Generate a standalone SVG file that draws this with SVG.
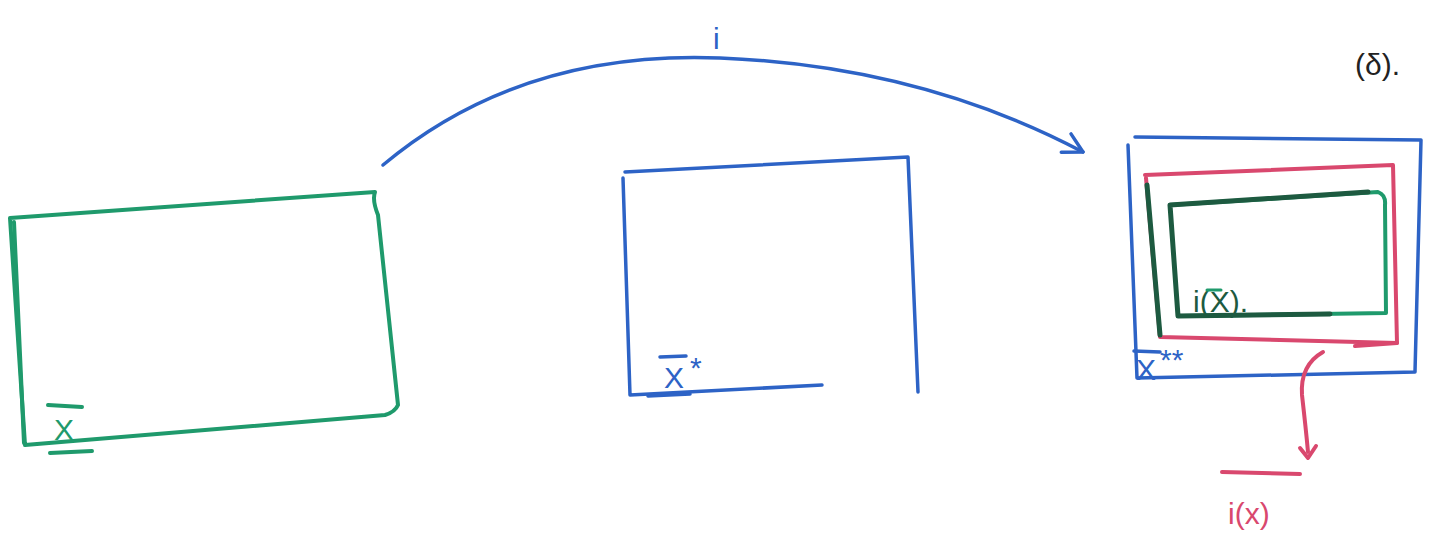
<svg xmlns="http://www.w3.org/2000/svg" width="1437" height="548" viewBox="0 0 1437 548">
<style>
.g{fill:none;stroke:#1f9a6c;stroke-width:4;stroke-linecap:round;stroke-linejoin:round}
.b{fill:none;stroke:#2d63c6;stroke-width:3.5;stroke-linecap:round;stroke-linejoin:round}
.p{fill:none;stroke:#d9486e;stroke-width:4;stroke-linecap:round;stroke-linejoin:round}
.dg{fill:none;stroke:#1d5a40;stroke-width:5;stroke-linecap:round;stroke-linejoin:round}
.t{font-family:"Liberation Sans",Arial,sans-serif;font-size:30px}
</style>
<defs>
<marker id="ab" viewBox="0 0 30 30" refX="26" refY="15" markerWidth="26" markerHeight="26" orient="auto" markerUnits="userSpaceOnUse">
<path d="M4,3 L26,15 L4,27" fill="none" stroke="#2d63c6" stroke-width="4" stroke-linecap="round" stroke-linejoin="round"/>
</marker>
</defs>
<rect width="1437" height="548" fill="#fff"/>
<g id="X">
<path class="g" d="M10,218 L375,192 Q372,200 378,215 L398,405 Q395,412 385,415 L25,445 Z"/>
<path class="g" d="M14,222 L24,443"/>
<text class="t" x="54" y="440" fill="#1f9a6c">X</text>
<line class="g" x1="48" y1="405" x2="82" y2="407"/>
<line class="g" x1="50" y1="453" x2="92" y2="451"/>
</g>
<g id="Xstar">
<path class="b" d="M625,172 L908,157 L918,392"/>
<path class="b" d="M623,178 L630,395 L822,385"/>
<path class="b" d="M648,396 L690,394"/>
<text class="t" x="664" y="388" fill="#2d63c6">X</text>
<line class="b" x1="660" y1="357" x2="686" y2="356"/>
<text class="t" x="690" y="378" fill="#2d63c6" font-size="26">*</text>
</g>
<g id="Xstarstar">
<path class="b" d="M1128,145 L1137,378 L1415,372 L1421,140 L1135,137"/>
<text class="t" x="1136" y="380" fill="#2d63c6">X</text>
<line class="b" x1="1134" y1="351" x2="1160" y2="352"/>
<text class="t" x="1160" y="370" fill="#2d63c6" font-size="30">**</text>
</g>
<g id="iX">
<path class="p" d="M1145,175 L1393,165 L1397,343 L1160,337 L1146,178"/>
<path class="p" d="M1355,346 L1397,343"/>
<path class="dg" d="M1147,185 L1160,335"/>
<path class="g" d="M1170,205 L1378,192 Q1386,195 1385,205 L1386,313 L1182,316"/>
<path class="dg" d="M1170,205 L1368,192 M1170,205 L1178,316 L1330,314"/>
<text class="t" x="1193" y="312" fill="#1d5a40" font-size="22">i(X).</text>
<line class="g" x1="1207" y1="290" x2="1221" y2="290" style="stroke-width:3"/>
</g>
<g id="iXclosure">
<line class="p" x1="1222" y1="472" x2="1300" y2="474"/>
<text class="t" x="1228" y="524" fill="#d9486e" font-size="26">i(x)</text>
</g>
<g id="delta">
<text class="t" x="1355" y="75" fill="#222" font-size="32">(δ).</text>
</g>
<g id="connectors">
<path class="b" d="M383,165 Q520,50 720,58 Q920,66 1083,152" marker-end="url(#ab)"/>
<text class="t" x="713" y="49" fill="#2d63c6" font-size="34">i</text>
<path class="p" d="M1323,352 Q1300,365 1302,395 Q1306,430 1308,452" stroke-width="3"/>
<path class="p" d="M1300,448 L1308,458 L1316,446" stroke-width="3"/>
</g>
</svg>
